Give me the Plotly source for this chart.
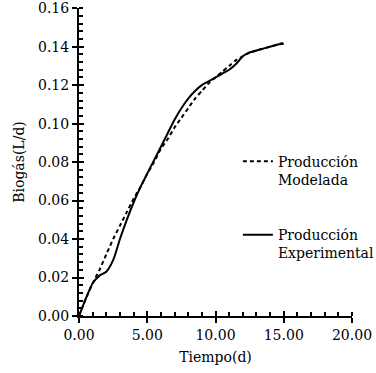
import plotly.graph_objects as go

tiempo = [0, 0.5, 1, 1.5, 2, 2.5, 3, 3.5, 4, 4.5, 5, 5.5, 6, 6.5, 7, 7.5,
          8, 8.5, 9, 9.5, 10, 10.5, 11, 11.5, 12, 12.5, 13, 13.5, 14, 14.5, 15]
modelada = [0, 0.009, 0.017, 0.024, 0.032, 0.040, 0.047, 0.054, 0.061, 0.067,
            0.074, 0.080, 0.087, 0.092, 0.098, 0.103, 0.108, 0.113, 0.117, 0.121,
            0.124, 0.127, 0.130, 0.133, 0.135, 0.137, 0.138, 0.139, 0.140, 0.141, 0.142]
experimental = [0, 0.009, 0.017, 0.021, 0.023, 0.029, 0.040, 0.050, 0.059, 0.067,
                0.074, 0.081, 0.088, 0.095, 0.102, 0.108, 0.113, 0.117, 0.120, 0.122,
                0.124, 0.126, 0.128, 0.131, 0.135, 0.137, 0.138, 0.139, 0.140, 0.141, 0.1415]

x_ticks = [0, 5, 10, 15, 20]
y_ticks = [0, 0.02, 0.04, 0.06, 0.08, 0.10, 0.12, 0.14, 0.16]

FONT = "DejaVu Serif"
FS = 14

fig = go.Figure()
fig.add_trace(go.Scatter(x=tiempo, y=modelada, mode="lines",
                         name="Producción<br>Modelada",
                         line=dict(color="black", width=2, dash="4px,3px", shape="spline", smoothing=0.6),
                         legendgroup="a"))
fig.add_trace(go.Scatter(x=tiempo, y=experimental, mode="lines",
                         name="Producción<br>Experimental",
                         line=dict(color="black", width=2, shape="spline", smoothing=0.6),
                         legendgroup="b"))

axis_common = dict(showgrid=False, zeroline=False, tickfont=dict(family=FONT, size=FS, color="black"),
                   ticks="outside", ticklen=5, tickwidth=2, tickcolor="black",
                   showline=True, linewidth=2, linecolor="black", ticklabeloverflow="allow")

fig.update_layout(
    width=376, height=373,
    margin=dict(l=79, r=24, t=8, b=57, autoexpand=False),
    paper_bgcolor="white", plot_bgcolor="white",
    font=dict(family=FONT, size=FS, color="black"),
    xaxis=dict(range=[0, 20], tickvals=x_ticks, tickformat=".2f",
               minor=dict(dtick=1, ticks="inside", ticklen=4, tickwidth=1.5, tickcolor="black"),
               title=dict(text="Tiempo(d)", font=dict(family=FONT, size=FS), standoff=10),
               **axis_common),
    yaxis=dict(range=[0, 0.1601], tickvals=y_ticks, tickformat=".2f",
               minor=dict(dtick=0.004, ticks="inside", ticklen=4, tickwidth=1.5, tickcolor="black"),
               title=dict(text="Biogás(L/d)", font=dict(family=FONT, size=FS), standoff=10),
               **axis_common),
    xaxis2=dict(range=[0, 20], overlaying="x", anchor="y", tickvals=x_ticks, ticks="inside",
                ticklen=5, tickwidth=2, tickcolor="black", showticklabels=False,
                showgrid=False, zeroline=False, showline=False, side="bottom"),
    yaxis2=dict(range=[0, 0.1601], overlaying="y", anchor="x", tickvals=y_ticks, ticks="inside",
                ticklen=5, tickwidth=2, tickcolor="black", showticklabels=False,
                showgrid=False, zeroline=False, showline=False, side="left"),
    showlegend=True,
    legend=dict(x=0.582, y=0.553, xanchor="left", yanchor="top", bgcolor="rgba(0,0,0,0)",
                font=dict(family=FONT, size=FS, color="black"),
                tracegroupgap=34, valign="top"),
)
fig.add_trace(go.Scatter(x=[None], y=[None], xaxis="x2", yaxis="y2", showlegend=False, hoverinfo="skip"))

fig.write_html("out.html", config={"displayModeBar": False},
               post_script="document.body.style.margin='0';document.body.style.overflow='hidden';")
